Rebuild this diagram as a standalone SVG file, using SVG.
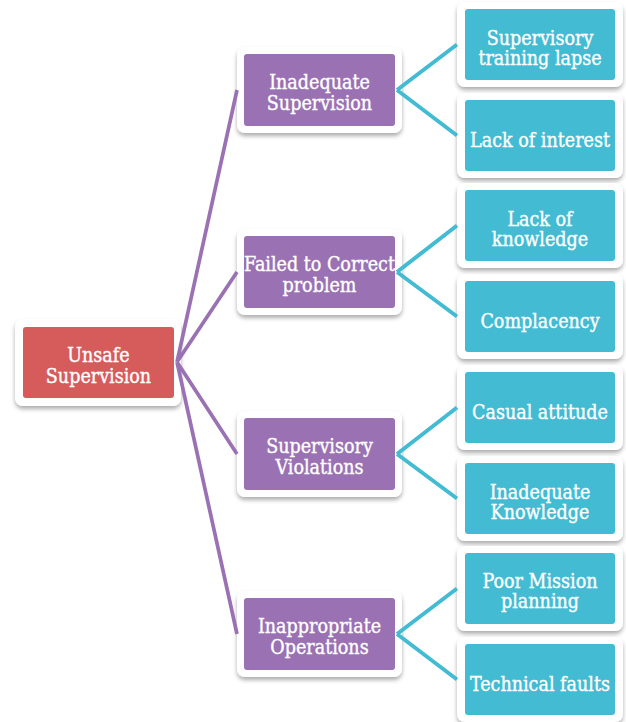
<svg xmlns="http://www.w3.org/2000/svg" width="626" height="722" viewBox="0 0 626 722">
<defs>
<filter id="sh" x="-20%" y="-20%" width="140%" height="150%">
<feDropShadow dx="0" dy="3" stdDeviation="2" flood-color="#000" flood-opacity="0.32"/>
</filter>
<style>
.fr{fill:#fff;filter:url(#sh)}
.red{fill:#d65b5b}
.pur{fill:#9a71b3}
.teal{fill:#42bbd3}
text{font-family:"DejaVu Serif Condensed","DejaVu Serif","Liberation Serif",serif;font-stretch:condensed;font-size:19.5px;fill:#fff;stroke:#fff;stroke-width:0.35;text-anchor:middle}
.cp{stroke:#9a71b3;stroke-width:3.7;fill:none}
.ct{stroke:#42bbd3;stroke-width:4;fill:none}
</style>
</defs>
<rect width="626" height="722" fill="#fff"/>

<g id="unsafe-supervision">
<rect class="fr" x="15" y="319" width="166" height="87" rx="8"/>
<rect class="red" x="23" y="327" width="151" height="71" rx="3"/>
<text x="98.5" y="362">Unsafe</text>
<text x="98.5" y="383">Supervision</text>
</g>

<g id="inadequate-supervision">
<rect class="fr" x="237" y="47" width="165" height="86" rx="8"/>
<rect class="pur" x="244" y="54" width="151" height="72" rx="3"/>
<text x="319.5" y="89">Inadequate</text>
<text x="319.5" y="110">Supervision</text>
</g>
<g id="failed-to-correct">
<rect class="fr" x="237" y="229" width="165" height="86" rx="8"/>
<rect class="pur" x="244" y="236" width="151" height="72" rx="3"/>
<text x="319.5" y="271">Failed to Correct</text>
<text x="319.5" y="292">problem</text>
</g>
<g id="supervisory-violations">
<rect class="fr" x="237" y="411" width="165" height="86" rx="8"/>
<rect class="pur" x="244" y="418" width="151" height="72" rx="3"/>
<text x="319.5" y="453">Supervisory</text>
<text x="319.5" y="474">Violations</text>
</g>
<g id="inappropriate-operations">
<rect class="fr" x="237" y="591" width="165" height="86" rx="8"/>
<rect class="pur" x="244" y="598" width="151" height="72" rx="3"/>
<text x="319.5" y="633">Inappropriate</text>
<text x="319.5" y="654">Operations</text>
</g>

<g id="supervisory-training-lapse">
<rect class="fr" x="457" y="2" width="166" height="85" rx="8"/>
<rect class="teal" x="465" y="9" width="150" height="71" rx="3"/>
<text x="540" y="44.5">Supervisory</text>
<text x="540" y="64.5">training lapse</text>
</g>
<g id="lack-of-interest">
<rect class="fr" x="457" y="93" width="166" height="85" rx="8"/>
<rect class="teal" x="465" y="100" width="150" height="71" rx="3"/>
<text x="540" y="147">Lack of interest</text>
</g>
<g id="lack-of-knowledge">
<rect class="fr" x="457" y="183" width="166" height="85" rx="8"/>
<rect class="teal" x="465" y="190" width="150" height="71" rx="3"/>
<text x="540" y="225.5">Lack of</text>
<text x="540" y="245.5">knowledge</text>
</g>
<g id="complacency">
<rect class="fr" x="457" y="274" width="166" height="85" rx="8"/>
<rect class="teal" x="465" y="281" width="150" height="71" rx="3"/>
<text x="540" y="327.5">Complacency</text>
</g>
<g id="casual-attitude">
<rect class="fr" x="457" y="365" width="166" height="85" rx="8"/>
<rect class="teal" x="465" y="372" width="150" height="71" rx="3"/>
<text x="540" y="418.5">Casual attitude</text>
</g>
<g id="inadequate-knowledge">
<rect class="fr" x="457" y="456" width="166" height="85" rx="8"/>
<rect class="teal" x="465" y="463" width="150" height="71" rx="3"/>
<text x="540" y="498.5">Inadequate</text>
<text x="540" y="518.5">Knowledge</text>
</g>
<g id="poor-mission-planning">
<rect class="fr" x="457" y="546" width="166" height="85" rx="8"/>
<rect class="teal" x="465" y="553" width="150" height="71" rx="3"/>
<text x="540" y="588">Poor Mission</text>
<text x="540" y="608">planning</text>
</g>
<g id="technical-faults">
<rect class="fr" x="457" y="637" width="166" height="85" rx="8"/>
<rect class="teal" x="465" y="644" width="150" height="71" rx="3"/>
<text x="540" y="691">Technical faults</text>
</g>

<g id="connectors">
<path class="cp" d="M177 362L237 90M177 362L237 272M177 362L237 454M177 362L237 634"/>
<path class="ct" d="M397 90L457 44.5M397 90L457 135.5M397 272L457 225.5M397 272L457 316.5M397 454L457 407.5M397 454L457 498.5M397 634L457 588.5M397 634L457 679.5"/>
</g>
</svg>
